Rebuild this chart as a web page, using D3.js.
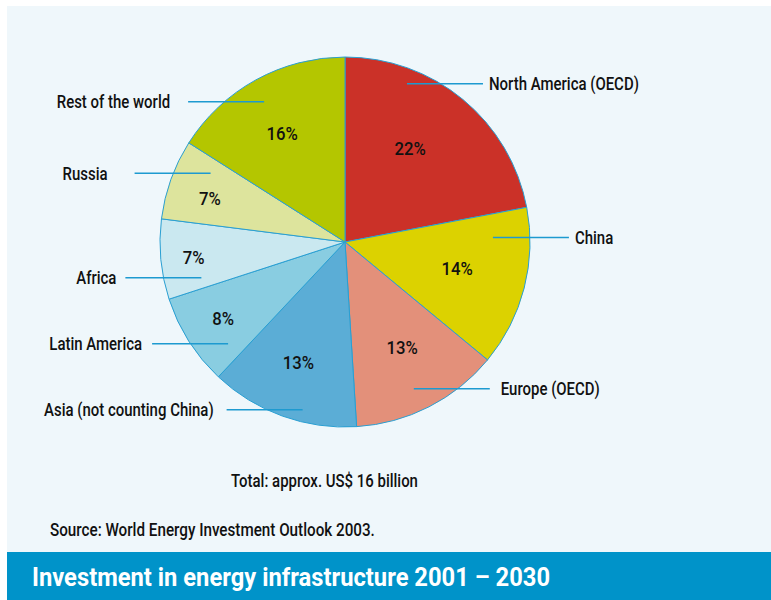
<!DOCTYPE html>
<html><head><meta charset="utf-8">
<script src="https://cdn.jsdelivr.net/npm/d3@7"></script>
<style>
body{margin:0;background:#fff}
svg text{font-family:Roboto,"Liberation Sans",sans-serif;fill:#111}
</style>
</head><body><svg id="c" width="771" height="600"></svg>
<script>
// ---- data ----
const categories = ["North America (OECD)","China","Europe (OECD)","Asia (not counting China)","Latin America","Africa","Russia","Rest of the world"];
const shares = [22,14,13,13,8,7,7,16];
const sliceColors = ["#cb3128","#dcd200","#e3907a","#5badd6","#89cde1","#cae8f0","#dde49d","#b4c600"];
const titleText = "Investment in energy infrastructure 2001 – 2030";
const totalText = "Total: approx. US$ 16 billion";
const sourceText = "Source: World Energy Investment Outlook 2003.";

// ---- layout (annotation placement) ----
const pctAngleFrac = [0.44,0.47,0.47,0.53,0.51,0.49,0.43,0.48];
const pctRadius    = [114,115,120,129,144,152,142,126];
const calloutAngleFrac = [0.27,0.18,0.54,0.38,0.2,0.16,0.79,0.48];
const calloutRadius    = [170,148,162,173,155,148,151,162];
const calloutGap       = [6,6,11,13,10,9,27,18];
const calloutLen = 76;

const svg = d3.select("#c");
svg.append("rect").attr("x",7).attr("y",6).attr("width",764).attr("height",546).attr("fill","#eff7fb");
svg.append("rect").attr("x",7).attr("y",552).attr("width",764).attr("height",48).attr("fill","#0093c9");

function condText(parent, x, y, str, size, sx, anchor, weight, fill, dy){
  const t = parent.append("g").attr("transform",`translate(${x},${y}) scale(${sx},1)`)
    .append("text").attr("text-anchor",anchor||"start").attr("font-size",size)
    .attr("font-weight",weight||500).attr("dy",dy==null?"0.36em":dy).text(str);
  if (fill) t.style("fill",fill);
  return t;
}

const cx = 345, cy = 242, R = 185;
const g = svg.append("g").attr("transform",`translate(${cx},${cy})`);
const data = categories.map((c,i)=>({name:c,value:shares[i],i}));
const pie = d3.pie().value(d=>d.value).sort(null);
const arcs = pie(data);
const arc = d3.arc().innerRadius(0).outerRadius(R);

g.selectAll("path.s").data(arcs).join("path")
  .attr("d",arc).attr("fill",d=>sliceColors[d.data.i])
  .attr("stroke","#2a9fd2").attr("stroke-width",1).attr("stroke-linejoin","round");

const polar = (a,r)=>[r*Math.sin(a), -r*Math.cos(a)];

// percentage labels
arcs.forEach(d=>{
  const i = d.data.i;
  const a = d.startAngle + (d.endAngle-d.startAngle)*pctAngleFrac[i];
  const [x,y] = polar(a,pctRadius[i]);
  condText(g, x, y, d.data.value+"%", 19, 0.88, "middle", 500);
});

// callouts
arcs.forEach(d=>{
  const i = d.data.i;
  const a = d.startAngle + (d.endAngle-d.startAngle)*calloutAngleFrac[i];
  const [x,y] = polar(a,calloutRadius[i]);
  const right = Math.sin(a) > 0;
  const x2 = right ? x+calloutLen : x-calloutLen;
  g.append("line").attr("x1",x).attr("y1",y).attr("x2",x2).attr("y2",y)
    .attr("stroke","#1d9ad0").attr("stroke-width",1.5);
  condText(g, right ? x2+calloutGap[i] : x2-calloutGap[i], y, d.data.name, 17.5, 0.855, right ? "start" : "end", 500);
});

condText(svg, 231, 481, totalText, 17.5, 0.855, "start", 500);
condText(svg, 50, 530, sourceText, 17.5, 0.87, "start", 500);
condText(svg, 32, 586, titleText, 25, 0.95, "start", 700, "#fff", 0);
</script></body></html>
